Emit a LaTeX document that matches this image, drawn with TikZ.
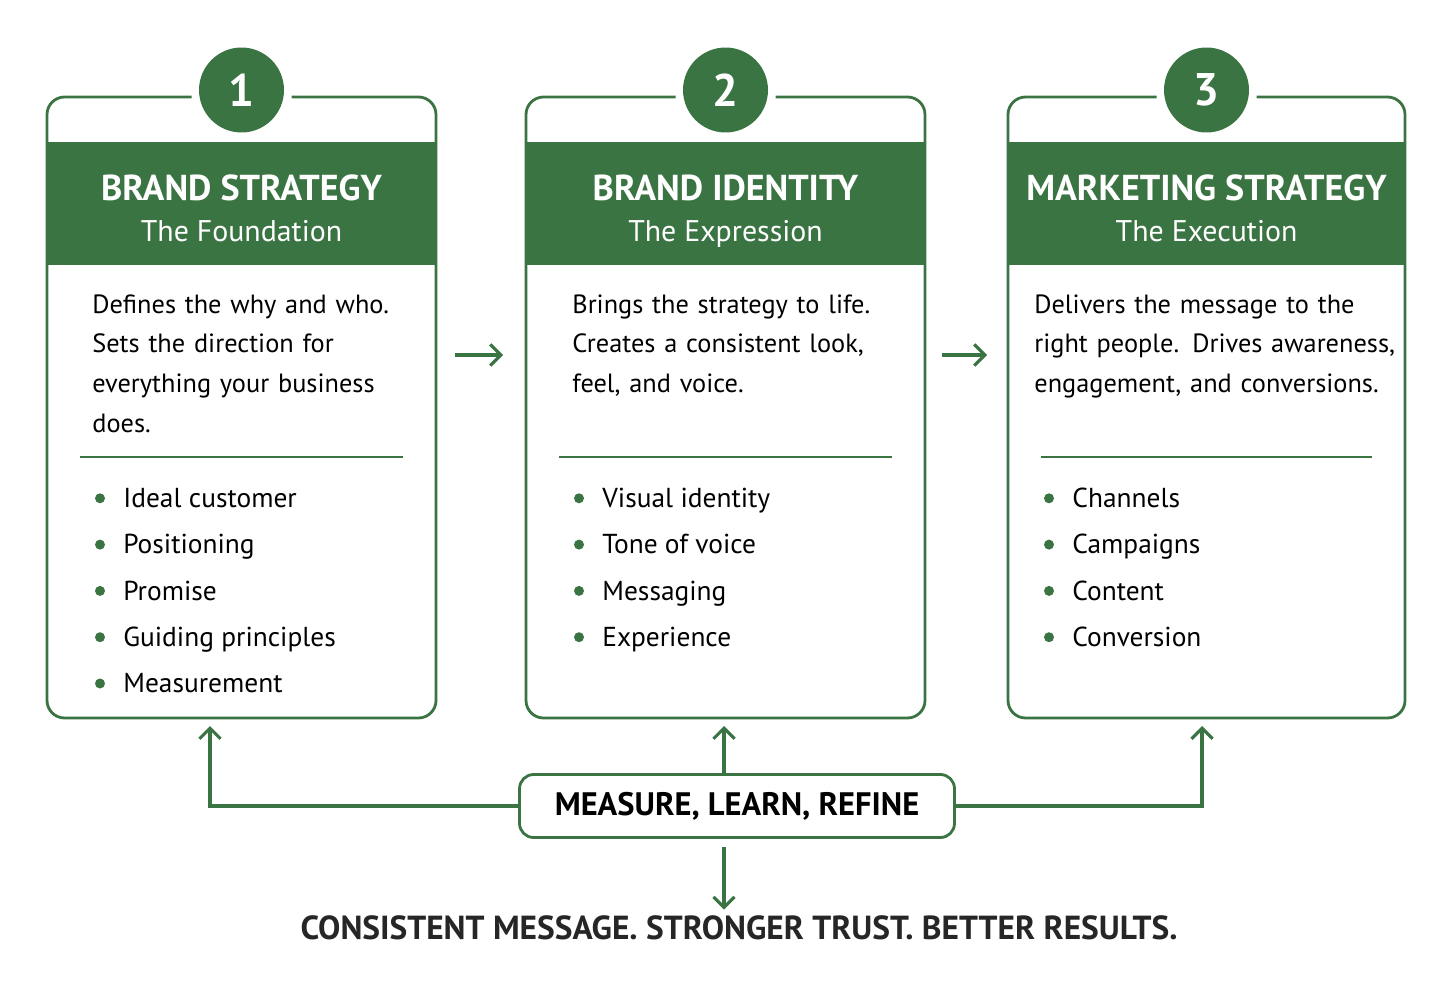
\documentclass[tikz,border=0pt]{standalone}
\usepackage{fontspec}
\setmainfont{PT Sans}
\usetikzlibrary{arrows.meta,positioning}
\definecolor{brandgreen}{HTML}{3B7443}
\tikzset{
  card/.style={draw=brandgreen, line width=1.6pt, rounded corners=10pt},
  band/.style={fill=brandgreen, draw=none},
  num/.style={circle, fill=brandgreen, minimum size=1.7cm, text=white, font=\fontsize{26}{26}\selectfont\bfseries},
  title/.style={text=white, text height=2.2ex, text depth=0.3ex, font=\fontsize{20.5}{20.5}\selectfont\bfseries},
  subtitle/.style={text=white, text height=2.2ex, text depth=0.5ex, font=\fontsize{17}{17}\selectfont},
  body/.style={anchor=north west, align=left, text width=8cm, font=\fontsize{15}{22.6}\selectfont, inner sep=0pt},
  item/.style={anchor=west, text height=1.6ex, text depth=0.4ex, font=\fontsize{15.6}{15.6}\selectfont, inner sep=0pt},
  dot/.style={circle, fill=brandgreen, inner sep=0pt, minimum size=0.2cm},
  flow/.style={draw=brandgreen, line width=1.8pt, -{Straight Barb[length=6pt,width=12pt]}},
}
\begin{document}
\begin{tikzpicture}[x=0.02cm, y=-0.02cm]
  \useasboundingbox (0,0) rectangle (1456,990);
  % three cards
  \foreach \xa/\xb/\n/\ti/\su in {47/436/1/BRAND STRATEGY/The Foundation,
                                   526/925/2/BRAND IDENTITY/The Expression,
                                   1008/1405/3/MARKETING STRATEGY/The Execution}{
    \pgfmathsetmacro{\xm}{(\xa+\xb)/2}
    \draw[card] (\xm-50,97) -- (\xa,97) -- (\xa,718) -- (\xb,718) -- (\xb,97) -- (\xm+50,97);
    \fill[band] (\xa+0.8,142) rectangle (\xb-0.8,265);
    \node[num] (num\n) at (\xm,90) {\n};
    \node[title] (title\n) at (\xm,192) {\ti};
    \node[subtitle] (sub\n) at (\xm,234) {\su};
    \draw[brandgreen, line width=1.4pt] (\xa+33,457) -- (\xb-33,457);
  }
  % body texts
  \node[body] (body1) at (92,294) {Defines the why and who.\\Sets the direction for\\everything your business\\does.};
  \node[body] (body2) at (572,294) {Brings the strategy to life.\\Creates a consistent look,\\feel, and voice.};
  \node[body] (body3) at (1034,294) {Delivers the message to the\\right people. Drives awareness,\\engagement, and conversions.};
  % bullet lists
  \foreach \x/\list in {100/{Ideal customer,Positioning,Promise,Guiding principles,Measurement},
                        579/{Visual identity,Tone of voice,Messaging,Experience},
                        1049/{Channels,Campaigns,Content,Conversion}}{
    \foreach \t [count=\i] in \list {
      \node[dot] at (\x,452+46.3*\i) {};
      \node[item] at (\x+23,456+46.3*\i) {\t};
    }
  }
  % arrows between cards
  \coordinate (a1) at (455,355); \coordinate (a2) at (503,355);
  \coordinate (b1) at (942,355); \coordinate (b2) at (987,355);
  \draw[flow] (a1) -- (a2);
  \draw[flow] (b1) -- (b2);
  % feedback loop
  \node[draw=brandgreen, line width=1.6pt, rounded corners=8pt, minimum width=8.7cm, minimum height=1.26cm,
        font=\fontsize{18.5}{18.5}\selectfont\bfseries] (loop) at (737,806) {MEASURE, LEARN, REFINE};
  \coordinate (c1) at (210,726); \coordinate (c2) at (724,726); \coordinate (c3) at (1202,726);
  \draw[flow] (loop.west) -| (c1);
  \draw[flow] (loop.north -| c2) -- (c2);
  \draw[flow] (loop.east) -| (c3);
  \node[font=\fontsize{19}{19}\selectfont\bfseries, text=black!85] (result) at (739,928)
    {CONSISTENT MESSAGE. STRONGER TRUST. BETTER RESULTS.};
  \draw[flow] (loop.south -| c2) ++(0,8) coordinate (d0) -- (d0 |- result.north);
\end{tikzpicture}
\end{document}
